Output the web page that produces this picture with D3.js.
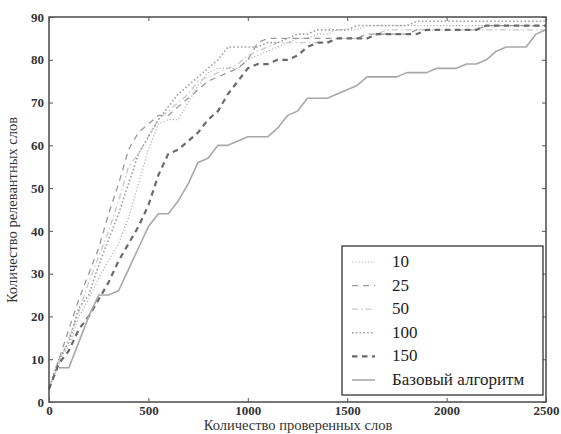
<!DOCTYPE html>
<html><head><meta charset="utf-8">
<script src="https://cdn.jsdelivr.net/npm/d3@7"></script>
<style>body{margin:0;background:#fff}svg{display:block}</style>
</head><body>
<svg id="c" width="561" height="434"></svg>
<script>
const words = [0,50,100,150,200,250,300,350,400,450,500,550,600,650,700,750,800,850,900,950,1000,1050,1100,1150,1200,1250,1300,1350,1400,1450,1500,1550,1600,1650,1700,1750,1800,1850,1900,1950,2000,2050,2100,2150,2200,2250,2300,2350,2400,2450,2500];
const s10  = [3,10,13,20,24,29,33,37,43,51,59,65,66,66,70,74,77,78,78,78,80,81,82,83,84,85,85,86,86,87,87,87,88,88,88,88,88,88,88,88,88,88,88,88,88,88,88,88,88,88,88];
const s25  = [3,10,17,24,30,36,44,51,59,63,65,67,67,69,71,73,75,76,77,78,80,84,85,85,85,85,85,85,85,85,85,85,86,86,86,86,86,87,87,87,87,87,87,87,88,88,88,88,88,88,88];
const s50  = [3,9,15,21,28,34,40,47,55,58,62,66,68,70,72,75,76,77,78,79,81,82,83,84,84,84,84,84,84,85,85,85,85,86,87,87,87,87,87,87,87,87,87,87,87,87,87,87,87,87,87];
const s100 = [3,10,14,22,25,32,38,44,51,58,62,66,69,72,74,76,78,80,83,83,83,83,84,84,85,86,86,87,87,87,87,88,88,88,88,88,88,89,89,89,89,89,89,89,89,89,89,89,89,89,89];
const s150 = [3,9,12,17,20,24,28,33,37,41,46,53,58,59,61,63,66,68,72,75,78,79,79,80,80,81,83,84,84,85,85,85,85,86,86,86,86,86,87,87,87,87,87,87,88,88,88,88,88,88,88];
const base = [null,8,8,14,20,25,25,26,31,36,41,44,44,47,51,56,57,60,60,61,62,62,62,64,67,68,71,71,71,72,73,74,76,76,76,76,77,77,77,78,78,78,79,79,80,82,83,83,83,86,87];
const seriesNames = ["10","25","50","100","150","Базовый алгоритм"];
const xTicks = [0,500,1000,1500,2000,2500];
const yTicks = [0,10,20,30,40,50,60,70,80,90];
const xLabel = "Количество проверенных слов";
const yLabel = "Количество релевантных слов";

const styles = [
  {c:"#b0b0b0", w:1.2, d:"1.2,2"},
  {c:"#9a9a9a", w:1.3, d:"6,5"},
  {c:"#c8c8c8", w:1.3, d:"6,3,1.5,3"},
  {c:"#a0a0a0", w:1.6, d:"1.6,2.2"},
  {c:"#6a6a6a", w:2.2, d:"5.5,4.5"},
  {c:"#a8a8a8", w:1.6, d:null}
];
const data = [s10,s25,s50,s100,s150,base];

const svg = d3.select("#c");
const L=49, R=546, T=17, B=402;
const x = d3.scaleLinear().domain([0,2500]).range([L,R]);
const y = d3.scaleLinear().domain([0,90]).range([B,T]);
const font = "'Liberation Serif', 'DejaVu Serif', serif";

const line = d3.line().defined(d=>d[1]!=null).x(d=>x(d[0])).y(d=>y(d[1]));
data.forEach((s,i)=>{
  const pts = words.map((w,j)=>[w,s[j]]);
  svg.append("path").datum(pts).attr("d",line)
    .attr("fill","none").attr("stroke",styles[i].c).attr("stroke-width",styles[i].w)
    .attr("stroke-dasharray",styles[i].d).attr("stroke-linejoin","round");
});

// frame
svg.append("rect").attr("x",L).attr("y",T).attr("width",R-L).attr("height",B-T)
  .attr("fill","none").attr("stroke","#4a4a4a").attr("stroke-width",1.5);

// axes with inward ticks
const ax = svg.append("g").attr("transform",`translate(0,${B})`)
  .call(d3.axisBottom(x).tickValues(xTicks).tickSize(-4).tickPadding(4).tickFormat(d3.format("d")));
const axTop = svg.append("g").attr("transform",`translate(0,${T})`)
  .call(d3.axisTop(x).tickValues(xTicks).tickSize(-4).tickFormat(""));
const ay = svg.append("g").attr("transform",`translate(${L},0)`)
  .call(d3.axisLeft(y).tickValues(yTicks).tickSize(-4).tickPadding(5));
const ayR = svg.append("g").attr("transform",`translate(${R},0)`)
  .call(d3.axisRight(y).tickValues(yTicks).tickSize(-4).tickFormat(""));
[ax,axTop,ay,ayR].forEach(g=>{
  g.select(".domain").remove();
  g.selectAll(".tick line").attr("stroke","#555").attr("stroke-width",1);
  g.selectAll("text").attr("font-family",font).attr("font-size",13).attr("font-weight","bold").attr("fill","#333");
});

svg.append("text").attr("x",298).attr("y",430).attr("text-anchor","middle")
  .attr("font-family",font).attr("font-size",14.5).attr("fill","#333").text(xLabel);
svg.append("text").attr("transform",`translate(17,210) rotate(-90)`).attr("text-anchor","middle")
  .attr("font-family",font).attr("font-size",14.5).attr("fill","#333").text(yLabel);

// legend
const lg = svg.append("g");
lg.append("rect").attr("x",342).attr("y",246).attr("width",201).attr("height",149)
  .attr("fill","#fff").attr("stroke","#333").attr("stroke-width",1.3);
const rowY = d3.scaleLinear().domain([0,5]).range([262,380]);
seriesNames.forEach((n,i)=>{
  const yy = rowY(i);
  lg.append("line").attr("x1",352).attr("x2",375).attr("y1",yy).attr("y2",yy)
    .attr("stroke",styles[i].c).attr("stroke-width",styles[i].w).attr("stroke-dasharray",styles[i].d);
  lg.append("text").attr("x",392).attr("y",yy+5).attr("font-family",font).attr("font-size",17)
    .attr("fill","#222").text(n);
});
</script>
</body></html>
